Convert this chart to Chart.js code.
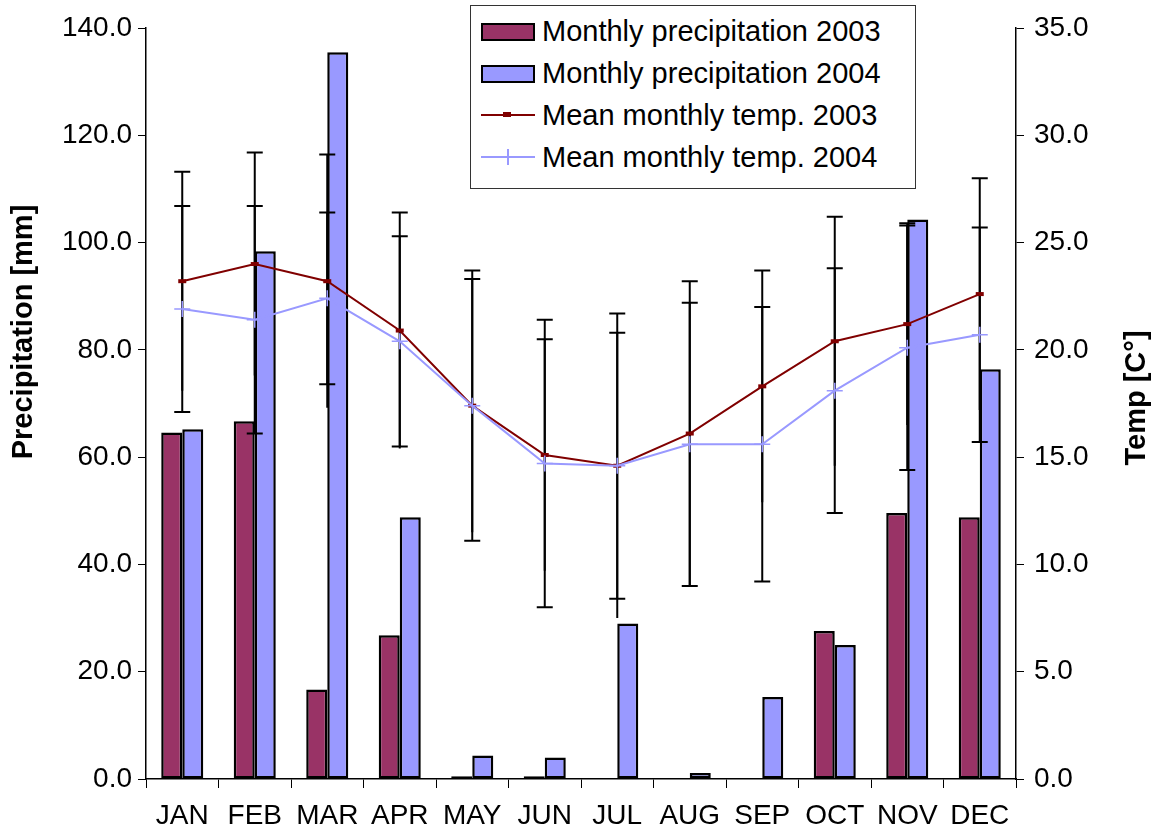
<!DOCTYPE html>
<html>
<head>
<meta charset="utf-8">
<script src="https://cdn.jsdelivr.net/npm/chart.js@4"></script>
<style>
  body { margin: 0; background: #fff; }
  #wrap { position: relative; width: 1156px; height: 837px; }
  #legend {
    position: absolute; left: 470px; top: 5px; width: 446px; height: 184px;
    border: 1px solid #333; background: #fff; box-sizing: border-box;
    font-family: "Liberation Sans", Arial, sans-serif; font-size: 29px; color: #000;
  }
  .row { position: absolute; left: 8px; height: 42px; line-height: 42px; white-space: nowrap; }
  .row span.sw { position: absolute; left: 2px; top: 13px; width: 50px; height: 14px; border: 2px solid #000; box-sizing: content-box; }
  .row span.ln { position: absolute; left: 2px; top: 20px; width: 54px; height: 2px; }
  .row span.tx { position: absolute; left: 63px; top: 0; }
  .ytitle {
    position: absolute; width: 400px; height: 36px; line-height: 36px; text-align: center;
    font-family: "Liberation Sans", Arial, sans-serif; font-size: 29px; font-weight: bold; color: #000;
    transform: rotate(-90deg); white-space: nowrap;
  }
</style>
</head>
<body>
<div id="wrap">
  <canvas id="chart" width="1156" height="837"></canvas>
  <div id="legend"></div>
  <div class="ytitle" style="left:-178px; top:314px;">Precipitation [mm]</div>
  <div class="ytitle" style="left:935px; top:380px;">Temp [C°]</div>
</div>
<script>
var months = ['JAN', 'FEB', 'MAR', 'APR', 'MAY', 'JUN', 'JUL', 'AUG', 'SEP', 'OCT', 'NOV', 'DEC'];
var precip2003 = [64.6, 66.7, 16.7, 26.8, 0.5, 0.5, null, null, null, 27.6, 49.6, 48.8];
var precip2004 = [65.2, 98.4, 135.5, 48.8, 4.4, 4.0, 29.0, 1.1, 15.3, 25.0, 104.3, 76.4];
var temp2003 = [23.2, 24.0, 23.2, 20.9, 17.4, 15.1, 14.6, 16.1, 18.3, 20.4, 21.2, 22.6];
var temp2004 = [21.9, 21.4, 22.4, 20.4, 17.4, 14.7, 14.6, 15.6, 15.6, 18.1, 20.1, 20.7];
var sd2003 = [5.1, 5.2, 5.9, 5.5, 5.9, 5.4, 7.1, 7.1, 5.4, 5.8, 4.7, 5.4];
var sd2004 = [4.8, 5.3, 4.0, 4.9, 6.3, 6.7, 6.2, 6.6, 6.4, 5.7, 5.7, 5.0];

var labelsLegend = ['Monthly precipitation 2003', 'Monthly precipitation 2004',
                    'Mean monthly temp. 2003', 'Mean monthly temp. 2004'];

var font = '"Liberation Sans", Arial, sans-serif';

// error bars drawn right after the bars, under the temperature lines
var errorBars = {
    id: 'errorBars',
    afterDatasetDraw: function(chart, args) {
        if (args.index !== 0) return;
        var ctx = chart.ctx;
        var x = chart.scales.x;
        var y = chart.scales.yT;
        ctx.save();
        ctx.strokeStyle = '#000';
        ctx.lineWidth = 2;
        var cap = 8;
        for (var i = 0; i < months.length; i++) {
            var cx = x.getPixelForValue(i);
            [[temp2003, sd2003, false], [temp2004, sd2004, true]].forEach(function(s) {
                var top = y.getPixelForValue(s[0][i] + s[1][i]);
                var bot = y.getPixelForValue(s[0][i] - s[1][i]);
                ctx.beginPath();
                ctx.moveTo(cx, top); ctx.lineTo(cx, bot);
                ctx.moveTo(cx - cap, top); ctx.lineTo(cx + cap, top);
                if (s[2]) { ctx.moveTo(cx - cap, bot); ctx.lineTo(cx + cap, bot); }
                ctx.stroke();
            });
        }
        ctx.restore();
    }
};

var ctx = document.getElementById('chart');
var chart = new Chart(ctx, {
    type: 'bar',
    data: {
        labels: months,
        datasets: [
            {
                label: labelsLegend[0],
                data: precip2003,
                backgroundColor: '#993366',
                borderColor: '#000',
                borderWidth: 2.5,
                borderSkipped: false,
                yAxisID: 'yP',
                order: 3,
                barPercentage: 1.0,
                categoryPercentage: 0.58
            },
            {
                label: labelsLegend[1],
                data: precip2004,
                backgroundColor: '#9999FF',
                borderColor: '#000',
                borderWidth: 2.5,
                borderSkipped: false,
                yAxisID: 'yP',
                order: 4,
                barPercentage: 1.0,
                categoryPercentage: 0.58
            },
            {
                type: 'line',
                label: labelsLegend[2],
                data: temp2003,
                borderColor: '#800000',
                backgroundColor: '#800000',
                borderWidth: 2,
                pointStyle: 'line',
                pointRadius: 4,
                pointBorderWidth: 4,
                pointBorderColor: '#800000',
                tension: 0,
                yAxisID: 'yT',
                order: 2
            },
            {
                type: 'line',
                label: labelsLegend[3],
                data: temp2004,
                borderColor: '#9999FF',
                backgroundColor: '#9999FF',
                borderWidth: 2,
                pointStyle: 'cross',
                pointRadius: 8,
                pointBorderWidth: 1.5,
                pointBorderColor: '#9999FF',
                tension: 0,
                yAxisID: 'yT',
                order: 1
            }
        ]
    },
    options: {
        responsive: false,
        animation: false,
        layout: { padding: { top: 28, left: 0, right: 0, bottom: 0 } },
        plugins: {
            legend: { display: false },
            tooltip: { enabled: false }
        },
        scales: {
            x: {
                grid: { drawOnChartArea: false, color: '#000', tickLength: 9, offset: true },
                border: { color: '#000', width: 1.5 },
                ticks: { color: '#000', font: { family: font, size: 28 }, padding: 11, maxRotation: 0 },
                afterFit: function(s) { s.height = 58; }
            },
            yP: {
                position: 'left',
                min: 0, max: 140,
                ticks: {
                    stepSize: 20, color: '#000', padding: 6,
                    font: { family: font, size: 28 },
                    callback: function(v) { return v.toFixed(1); }
                },
                grid: { drawOnChartArea: false, color: '#000', tickLength: 8 },
                border: { color: '#000', width: 1.5 },
                afterFit: function(s) { s.width = 146; }
            },
            yT: {
                position: 'right',
                min: 0, max: 35,
                ticks: {
                    stepSize: 5, color: '#000', padding: 10,
                    font: { family: font, size: 28 },
                    callback: function(v) { return v.toFixed(1); }
                },
                grid: { drawOnChartArea: false, color: '#000', tickLength: 8 },
                border: { color: '#000', width: 1.5 },
                afterFit: function(s) { s.width = 140; }
            }
        }
    },
    plugins: [errorBars]
});

// legend box inside the plot, like the original
var legend = document.getElementById('legend');
var styles = [
    { kind: 'sw', color: '#993366' },
    { kind: 'sw', color: '#9999FF' },
    { kind: 'ln', color: '#800000' },
    { kind: 'ln', color: '#9999FF' }
];
labelsLegend.forEach(function(text, i) {
    var row = document.createElement('div');
    row.className = 'row';
    row.style.top = (4 + i * 42) + 'px';
    var mark = document.createElement('span');
    mark.className = styles[i].kind;
    mark.style.background = styles[i].color;
    row.appendChild(mark);
    if (i === 2) {
        var m = document.createElement('span');
        m.style.cssText = 'position:absolute;left:24px;top:18px;width:8px;height:5px;background:#800000;';
        row.appendChild(m);
    }
    if (i === 3) {
        var c = document.createElement('span');
        c.style.cssText = 'position:absolute;left:28px;top:13px;width:2px;height:16px;background:#9999FF;';
        row.appendChild(c);
    }
    var t = document.createElement('span');
    t.className = 'tx';
    t.textContent = text;
    row.appendChild(t);
    legend.appendChild(row);
});
</script>
</body>
</html>
